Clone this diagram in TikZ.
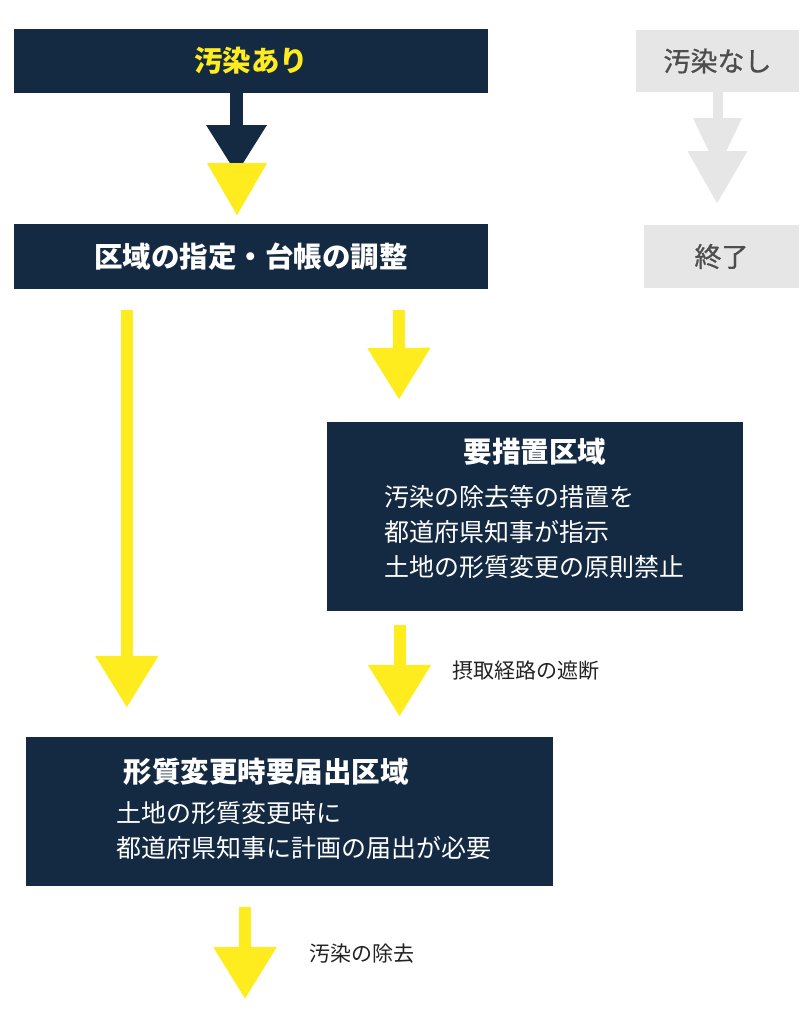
\documentclass[tikz,border=0pt]{standalone}
\usepackage{fontspec}
\setmainfont{Noto Sans CJK JP}
\newfontfamily\greyfont{Noto Sans CJK JP}[FakeBold=0.8]
\usepackage{tikz}
\usetikzlibrary{positioning, arrows.meta, calc}
\definecolor{boxblue}{RGB}{20,41,66}
\definecolor{arrowyellow}{RGB}{255,236,31}
\definecolor{offgray}{RGB}{230,230,230}
\definecolor{graytext}{RGB}{77,77,77}
\definecolor{labeltext}{RGB}{34,34,34}

\begin{document}
\begin{tikzpicture}[x=1pt, y=-1pt, on grid,
    darkbox/.style={fill=boxblue, text=white, inner sep=0pt, font=\fontsize{28.5}{34}\selectfont\bfseries},
    greybox/.style={fill=offgray, text=graytext, inner sep=0pt, font=\fontsize{27}{32}\greyfont},
    boxtitle/.style={text=white, inner sep=0pt, font=\fontsize{28.5}{34}\selectfont\bfseries},
    boxbody/.style={text=white, inner sep=0pt, align=left, anchor=west, font=\fontsize{25}{35}\selectfont},
    yarrow/.style={draw=arrowyellow, line width=12pt, -{Triangle[width=60pt, length=52pt]}},
    lbl/.style={text=labeltext, inner sep=0pt, anchor=west, font=\fontsize{21}{26}\selectfont}]
      \useasboundingbox (0,0) rectangle (809,1024);

      \node[darkbox, text=arrowyellow, minimum width=474pt, minimum height=64pt] (ari) at (251,61) {汚染あり};
      \node[greybox, minimum width=163pt, minimum height=62pt, right=466.5pt of ari] (nashi) {汚染なし};
      \node[darkbox, minimum width=474pt, minimum height=65pt, below=195.5pt of ari] (shitei) {区域の指定・台帳の調整};
      \node[greybox, minimum width=155pt, minimum height=63pt, right=470.5pt of shitei] (shuryo) {終了};

      \node[darkbox, minimum width=416pt, minimum height=189pt, below right=260pt and 284pt of shitei] (sochi) {};
      \node[boxtitle] (sochi-t) at ($(sochi.north)+(0,30)$) {要措置区域};
      \node[boxbody] (sochi-b) at ($(sochi.west)+(57,15.5)$) {汚染の除去等の措置を\\都道府県知事が指示\\土地の形質変更の原則禁止};

      \node[darkbox, minimum width=527pt, minimum height=149pt, below left=295pt and 245.5pt of sochi] (todokede) {};
      \node[boxtitle] (todokede-t) at ($(todokede.north)+(-23.5,35)$) {形質変更時要届出区域};
      \node[boxbody] (todokede-b) at ($(todokede.west)+(90,19)$) {土地の形質変更時に\\都道府県知事に計画の届出が必要};
      \coordinate (goal) at ($(todokede.south)+(-44.5,113)$);

      % top: dark arrow under a yellow head
      \draw[draw=boxblue, line width=13pt, -{Triangle[width=57pt, length=49pt]}]
            ($(ari.south)+(-14.5,0)$) -- ($(ari.south)+(-14.5,81)$);
      \fill[arrowyellow] ($(ari.south)+(-44,70)$) -- ($(ari.south)+(16,70)$) -- ($(ari.south)+(-14,122)$) -- cycle;
      \draw[draw=offgray, line width=10pt, -{Triangle[width=46pt, length=52pt]}]
            (nashi.south) -- ($(nashi.south)+(0,78)$);
      \fill[offgray] ($(nashi.south)+(-30,59)$) -- ($(nashi.south)+(30,59)$) -- ($(nashi.south)+(-0.5,111)$) -- cycle;

      \draw[yarrow] ($(shitei.south west)+(113,21)$) -- ($(todokede.north west)+(101,-29)$);
      \draw[yarrow] ($(shitei.south west)+(385,21)$) -- ($(sochi.north)+(-136,-22)$);
      \draw[yarrow] ($(sochi.south)+(-135.5,14)$) -- node[lbl, right=47pt] {摂取経路の遮断} ($(todokede.north)+(110,-20)$);
      \draw[yarrow] ($(todokede.south)+(-44.5,21)$) -- node[lbl, right=58pt] {汚染の除去} (goal);
    \end{tikzpicture}
\end{document}
